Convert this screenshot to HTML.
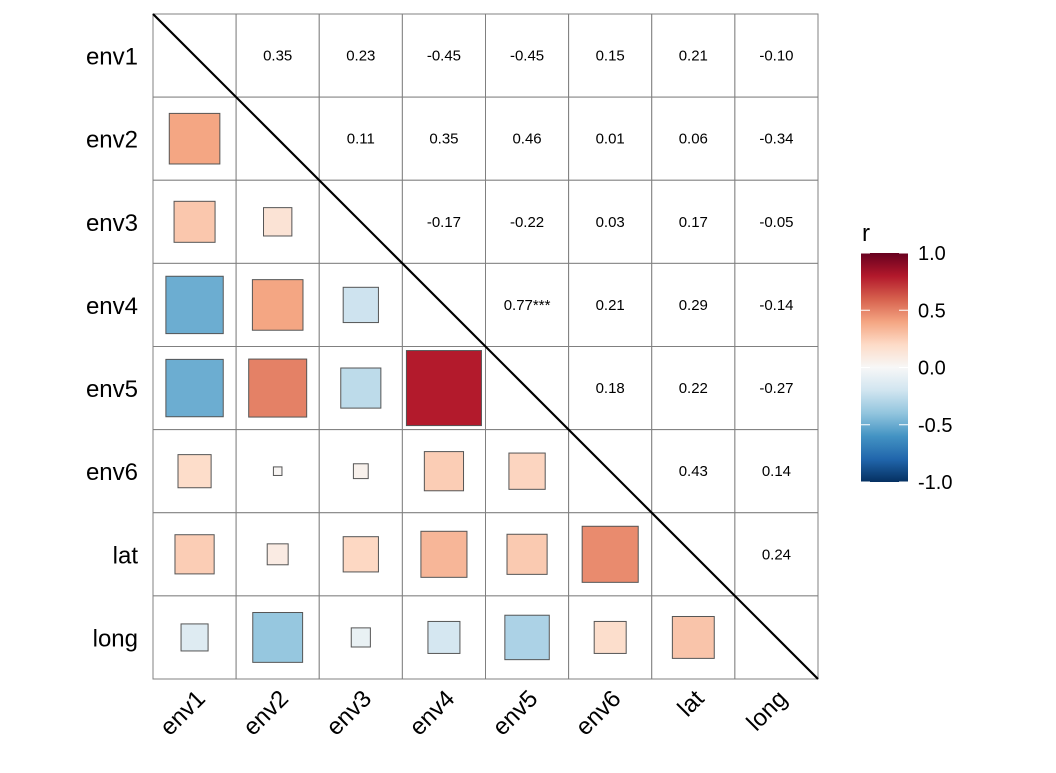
<!DOCTYPE html>
<html><head><meta charset="utf-8"><style>
body{margin:0;background:#fff;}
svg text{font-family:"Liberation Sans",Arial,sans-serif;}
</style></head><body>
<svg id="chart" width="1056" height="768" xmlns="http://www.w3.org/2000/svg">
<defs>
<linearGradient id="cbar" x1="0" y1="1" x2="0" y2="0">
<stop offset="0" stop-color="#053061"/><stop offset="0.1" stop-color="#2166ac"/><stop offset="0.2" stop-color="#4393c3"/><stop offset="0.3" stop-color="#92c5de"/><stop offset="0.4" stop-color="#d1e5f0"/><stop offset="0.5" stop-color="#f7f7f7"/><stop offset="0.6" stop-color="#fddbc7"/><stop offset="0.7" stop-color="#f4a582"/><stop offset="0.8" stop-color="#d6604d"/><stop offset="0.9" stop-color="#b2182b"/><stop offset="1" stop-color="#67001f"/>
</linearGradient>
</defs>
<g id="grid"></g><g id="marks"></g><g id="labels"></g>
<g>
<text x="862" y="241" font-size="24">r</text>
<rect x="861" y="253" width="47" height="229" fill="url(#cbar)"/>
<g id="cticks"></g>
</g>
</svg>
<script>
const vars=["env1","env2","env3","env4","env5","env6","lat","long"];
const upperLabels=[
["","0.35","0.23","-0.45","-0.45","0.15","0.21","-0.10"],
["","","0.11","0.35","0.46","0.01","0.06","-0.34"],
["","","","-0.17","-0.22","0.03","0.17","-0.05"],
["","","","","0.77***","0.21","0.29","-0.14"],
["","","","","","0.18","0.22","-0.27"],
["","","","","","","0.43","0.14"],
["","","","","","","","0.24"],
["","","","","","","",""]];
const legendTicks=[1.0,0.5,0.0,-0.5,-1.0];
const NS="http://www.w3.org/2000/svg";
const X0=153,Y0=14,W=665,n=vars.length,cs=W/n;
function cx(j){return X0+cs*(j+0.5);}
function cy(i){return Y0+cs*(i+0.5);}
const stops=["#053061","#2166ac","#4393c3","#92c5de","#d1e5f0","#f7f7f7","#fddbc7","#f4a582","#d6604d","#b2182b","#67001f"];
function hex(h){return [1,3,5].map(k=>parseInt(h.substr(k,2),16));}
function color(r){r=Math.sign(r)*Math.pow(Math.abs(r),0.88);let t=(r+1)/2*10;let k=Math.min(9,Math.floor(t));let f=t-k;let a=hex(stops[k]),b=hex(stops[k+1]);return "rgb("+a.map((v,i)=>Math.round(v+(b[i]-v)*f)).join(",")+")";}
function mk(tag,attrs,parent){const e=document.createElementNS(NS,tag);for(const k in attrs)e.setAttribute(k,attrs[k]);parent.appendChild(e);return e;}
const grid=document.getElementById('grid'),marks=document.getElementById('marks'),labels=document.getElementById('labels');
for(let i=0;i<n;i++)for(let j=0;j<n;j++){
 const c=mk('rect',{x:X0+cs*j,y:Y0+cs*i,width:cs,height:cs,fill:'#fff',stroke:'#808080','stroke-width':1},grid);
 
 
 if(j>i){
  const t=mk('text',{x:cx(j),y:cy(i)+5,'font-size':15,'text-anchor':'middle'},marks);
  t.textContent=upperLabels[i][j];
  
  
 } else if(j<i){
  const r=parseFloat(upperLabels[j][i]);
  const s=85.5*Math.sqrt(Math.abs(r));
  const q=mk('rect',{x:cx(j)-s/2,y:cy(i)-s/2,width:s,height:s,fill:color(r),stroke:'#555','stroke-width':1},marks);
  
  
 }
}
const dl=mk('line',{x1:X0,y1:Y0,x2:X0+W,y2:Y0+W,stroke:'#000','stroke-width':2.2},marks);


vars.forEach((v,i)=>{
 const t=mk('text',{x:138,y:cy(i)+9,'font-size':24,'text-anchor':'end'},labels);
 t.textContent=v;
 
 
 const u=mk('text',{'font-size':24,'text-anchor':'end',transform:'translate('+(cx(i)+12)+',700) rotate(-45)'},labels);
 u.textContent=v;
 
 
});
const ct=document.getElementById('cticks');
legendTicks.forEach(v=>{
 const y=253+(1-v)/2*229;
 const l1=mk('line',{x1:861,x2:870,y1:y,y2:y,stroke:'#fff','stroke-width':1},ct);
 
 
 const l2=mk('line',{x1:899,x2:908,y1:y,y2:y,stroke:'#fff','stroke-width':1},ct);
 
 
 const t=mk('text',{x:918,y:y+7,'font-size':20},ct);
 t.textContent=v.toFixed(1);
 
 
});
</script>
</body></html>
